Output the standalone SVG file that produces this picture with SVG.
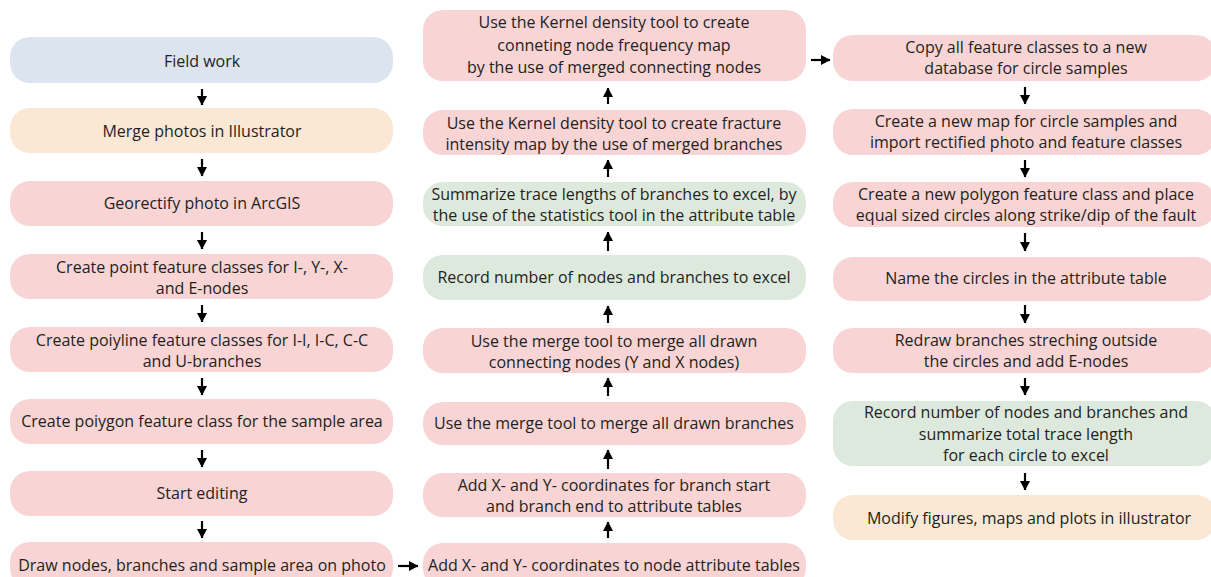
<svg xmlns="http://www.w3.org/2000/svg" width="1211" height="577" viewBox="0 0 1211 577">
<style>
.b{fill:#f8d4d4}
.g{fill:#dde9dd}
.bl{fill:#dce4ef}
.o{fill:#fbe8d4}
text{font-family:"Open Sans","Liberation Sans",sans-serif;font-size:16px;fill:#231f20;text-anchor:middle}
.c line{stroke:#000;stroke-width:2.2}
</style>
<defs>
<marker id="ah" markerUnits="userSpaceOnUse" markerWidth="12" markerHeight="12" refX="9" refY="5.5" orient="auto">
<path d="M0,0.5 L9.5,5.5 L0,10.5 Z" fill="#000"/>
</marker>
</defs>
<rect width="1211" height="577" fill="#fff"/>
<g id="n1"><rect class="bl" x="10" y="37" width="383" height="46" rx="20"/><text x="202" y="67">Field work</text></g>
<g id="n2"><rect class="o" x="10" y="108" width="383" height="45" rx="20"/><text x="202" y="137">Merge photos in Illustrator</text></g>
<g id="n3"><rect class="b" x="10" y="181" width="383" height="45" rx="20"/><text x="202" y="209">Georectify photo in ArcGIS</text></g>
<g id="n4"><rect class="b" x="10" y="254" width="383" height="45" rx="20"/><text x="202" y="273">Create point feature classes for I-, Y-, X-</text><text x="202" y="294">and E-nodes</text></g>
<g id="n5"><rect class="b" x="10" y="327" width="383" height="45" rx="20"/><text x="202" y="346">Create poiyline feature classes for I-I, I-C, C-C</text><text x="202" y="367">and U-branches</text></g>
<g id="n6"><rect class="b" x="10" y="399" width="383" height="45" rx="20"/><text x="202" y="427">Create poiygon feature class for the sample area</text></g>
<g id="n7"><rect class="b" x="10" y="471" width="383" height="45" rx="20"/><text x="202" y="499">Start editing</text></g>
<g id="n8"><rect class="b" x="10" y="542" width="383" height="46" rx="20"/><text x="202" y="571">Draw nodes, branches and sample area on photo</text></g>

<g id="m1"><rect class="b" x="423" y="10" width="383" height="71" rx="20"/><text x="614" y="28">Use the Kernel density tool to create</text><text x="614" y="51">conneting node frequency map</text><text x="614" y="73">by the use of merged connecting nodes</text></g>
<g id="m2"><rect class="b" x="423" y="110" width="383" height="45" rx="20"/><text x="614" y="129">Use the Kernel density tool to create fracture</text><text x="614" y="150">intensity map by the use of merged branches</text></g>
<g id="m3"><rect class="g" x="423" y="182" width="383" height="44" rx="20"/><text x="614" y="200">Summarize trace lengths of branches to excel, by</text><text x="614" y="221">the use of the statistics tool in the attribute table</text></g>
<g id="m4"><rect class="g" x="423" y="255" width="383" height="45" rx="20"/><text x="614" y="283">Record number of nodes and branches to excel</text></g>
<g id="m5"><rect class="b" x="423" y="328" width="383" height="45" rx="20"/><text x="614" y="347">Use the merge tool to merge all drawn</text><text x="614" y="368">connecting nodes (Y and X nodes)</text></g>
<g id="m6"><rect class="b" x="423" y="402" width="383" height="43" rx="20"/><text x="614" y="429">Use the merge tool to merge all drawn branches</text></g>
<g id="m7"><rect class="b" x="423" y="473" width="383" height="44" rx="20"/><text x="614" y="491">Add X- and Y- coordinates for branch start</text><text x="614" y="512">and branch end to attribute tables</text></g>
<g id="m8"><rect class="b" x="423" y="543" width="383" height="45" rx="20"/><text x="614" y="571">Add X- and Y- coordinates to node attribute tables</text></g>

<g id="r1"><rect class="b" x="833" y="35" width="383" height="46" rx="20"/><text x="1026" y="53">Copy all feature classes to a new</text><text x="1026" y="74">database for circle samples</text></g>
<g id="r2"><rect class="b" x="833" y="109" width="383" height="46" rx="20"/><text x="1026" y="127">Create a new map for circle samples and</text><text x="1026" y="148">import rectified photo and feature classes</text></g>
<g id="r3"><rect class="b" x="833" y="182" width="383" height="45" rx="20"/><text x="1026" y="200">Create a new polygon feature class and place</text><text x="1026" y="221">equal sized circles along strike/dip of the fault</text></g>
<g id="r4"><rect class="b" x="833" y="257" width="383" height="44" rx="20"/><text x="1026" y="284">Name the circles in the attribute table</text></g>
<g id="r5"><rect class="b" x="833" y="328" width="383" height="45" rx="20"/><text x="1026" y="346">Redraw branches streching outside</text><text x="1026" y="367">the circles and add E-nodes</text></g>
<g id="r6"><rect class="g" x="833" y="401" width="383" height="65" rx="20"/><text x="1026" y="418">Record number of nodes and branches and</text><text x="1026" y="440">summarize total trace length</text><text x="1026" y="461">for each circle to excel</text></g>
<g id="r7"><rect class="o" x="833" y="495" width="383" height="45" rx="20"/><text x="1029" y="524">Modify figures, maps and plots in illustrator</text></g>

<g id="connectors" class="c">
<line x1="202" y1="89" x2="202" y2="105" marker-end="url(#ah)"/>
<line x1="202" y1="159" x2="202" y2="176" marker-end="url(#ah)"/>
<line x1="202" y1="232" x2="202" y2="249" marker-end="url(#ah)"/>
<line x1="202" y1="305" x2="202" y2="322" marker-end="url(#ah)"/>
<line x1="202" y1="378" x2="202" y2="395" marker-end="url(#ah)"/>
<line x1="202" y1="450" x2="202" y2="467" marker-end="url(#ah)"/>
<line x1="202" y1="521" x2="202" y2="538" marker-end="url(#ah)"/>
<line x1="398" y1="566" x2="418" y2="566" marker-end="url(#ah)"/>
<line x1="608" y1="538" x2="608" y2="522" marker-end="url(#ah)"/>
<line x1="608" y1="469" x2="608" y2="450" marker-end="url(#ah)"/>
<line x1="608" y1="396" x2="608" y2="378" marker-end="url(#ah)"/>
<line x1="608" y1="323" x2="608" y2="306" marker-end="url(#ah)"/>
<line x1="608" y1="251" x2="608" y2="232" marker-end="url(#ah)"/>
<line x1="608" y1="177" x2="608" y2="160" marker-end="url(#ah)"/>
<line x1="608" y1="104" x2="608" y2="88" marker-end="url(#ah)"/>
<line x1="811" y1="60" x2="830" y2="60" marker-end="url(#ah)"/>
<line x1="1025" y1="87" x2="1025" y2="104" marker-end="url(#ah)"/>
<line x1="1025" y1="160" x2="1025" y2="177" marker-end="url(#ah)"/>
<line x1="1025" y1="233" x2="1025" y2="251" marker-end="url(#ah)"/>
<line x1="1025" y1="305" x2="1025" y2="323" marker-end="url(#ah)"/>
<line x1="1025" y1="378" x2="1025" y2="395" marker-end="url(#ah)"/>
<line x1="1025" y1="473" x2="1025" y2="490" marker-end="url(#ah)"/>
</g>
</svg>
